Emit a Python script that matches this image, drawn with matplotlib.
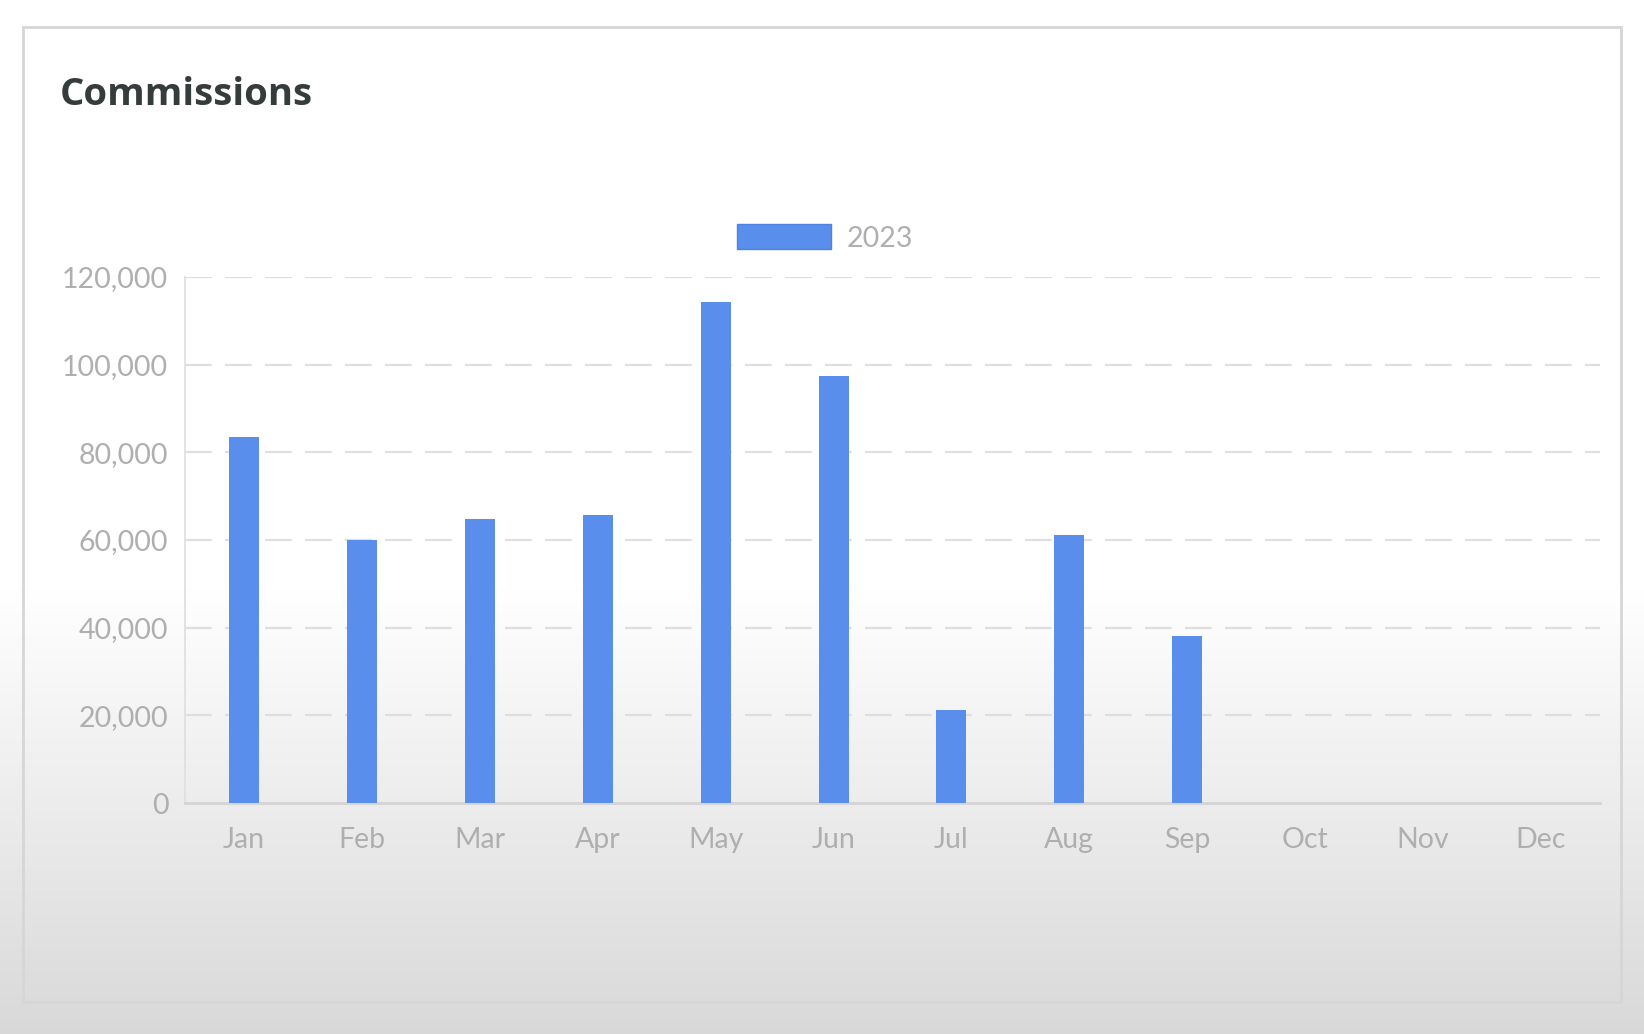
import matplotlib
matplotlib.use("Agg")
import matplotlib.pyplot as plt
import numpy as np
from matplotlib.patches import Rectangle, Patch

months = ["Jan", "Feb", "Mar", "Apr", "May", "Jun", "Jul", "Aug", "Sep", "Oct", "Nov", "Dec"]
commissions_2023 = [83500, 60000, 64700, 65600, 114300, 97500, 21300, 61100, 38100, None, None, None]
yticks = [0, 20000, 40000, 60000, 80000, 100000, 120000]
ytick_labels = ["0", "20,000", "40,000", "60,000", "80,000", "100,000", "120,000"]
series_label = "2023"
title = "Commissions"

W, H = 1644, 1034
fig = plt.figure(figsize=(W / 100, H / 100), dpi=100)

# background gradient
bg = fig.add_axes([0, 0, 1, 1], zorder=-10)
ys = np.linspace(0, 1, 400)  # 0 top -> 1 bottom
start = 590 / H
vals = np.where(ys < start, 1.0, 1.0 - (ys - start) / (1 - start) * 0.15)
img = np.repeat(vals[:, None], 2, axis=1)
bg.imshow(np.dstack([img, img, img]), aspect="auto", extent=[0, 1, 0, 1], origin="upper")
bg.set_xlim(0, 1); bg.set_ylim(0, 1)
bg.axis("off")
bg.add_patch(Rectangle((23 / W, 1 - 1002 / H), (1621 - 23) / W, (1002 - 27) / H,
                       fill=False, edgecolor="#d6d6d6", linewidth=2))

# main axes
left, right, top, bottom = 185, 1600, 277, 803
ax = fig.add_axes([left / W, 1 - bottom / H, (right - left) / W, (bottom - top) / H])
ax.patch.set_alpha(0)

x = np.arange(len(months))
vals_plot = [v if v is not None else 0 for v in commissions_2023]
bar_color = "#5a8eec"
ax.bar(x, vals_plot, width=0.255, color=bar_color, zorder=3, label=series_label)

ax.set_xlim(-0.5, len(months) - 0.5)
ax.set_ylim(0, 120000)
ax.set_yticks(yticks)
ax.set_yticklabels(ytick_labels)
ax.set_xticks(x)
ax.set_xticklabels(months)

for yv in yticks[1:]:
    ax.axhline(yv, color="#dedede", linewidth=1.6, dashes=(12, 6), zorder=1)

for s in ["top", "right"]:
    ax.spines[s].set_visible(False)
ax.spines["left"].set_color("#e0e0e0")
ax.spines["left"].set_linewidth(1.3)
ax.spines["bottom"].set_color("#d4d4d4")
ax.spines["bottom"].set_linewidth(2)

ax.tick_params(axis="both", length=0, labelsize=20.5, labelcolor="#afafaf")
ax.tick_params(axis="y", pad=12)
ax.tick_params(axis="x", pad=17)
for lab in ax.get_xticklabels() + ax.get_yticklabels():
    lab.set_fontfamily("Lato")

fig.text(60 / W, 1 - 105 / H, title, fontsize=27.5, fontweight="bold",
         family="Open Sans", color="#363c3c", va="baseline", ha="left")

handle = Patch(facecolor=bar_color, edgecolor="#4f82dc", linewidth=1)
leg = fig.legend([handle], [series_label], loc="center",
                 bbox_to_anchor=(825 / W, 1 - 238 / H), frameon=False,
                 prop={"family": "Lato", "size": 20.5}, handlelength=3.33,
                 handleheight=0.98, handletextpad=0.55, borderpad=0)
for t in leg.get_texts():
    t.set_color("#afafaf")

fig.savefig("out.png", dpi=100)
